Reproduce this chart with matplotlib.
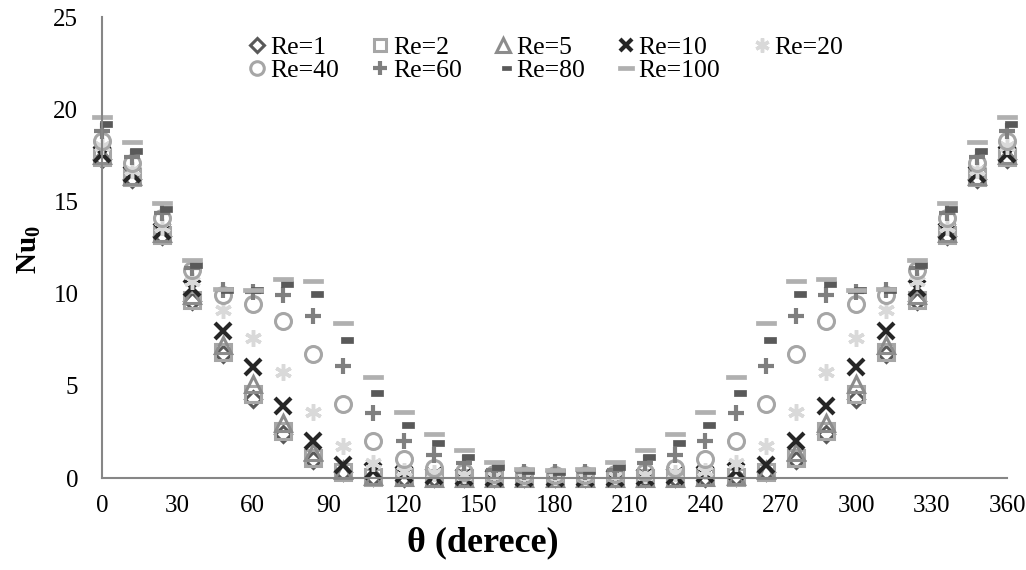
import numpy as np
import matplotlib
matplotlib.use("Agg")
import matplotlib.pyplot as plt
from matplotlib.path import Path

plt.rcParams['font.family'] = ['Liberation Serif', 'DejaVu Serif']
plt.rcParams['mathtext.fontset'] = 'custom'
plt.rcParams['mathtext.rm'] = 'Liberation Serif'
plt.rcParams['mathtext.bf'] = 'Liberation Serif:bold'

# theta in degrees, one point every 12 degrees
theta = [0, 12, 24, 36, 48, 60, 72, 84, 96, 108, 120, 132, 144, 156, 168, 180,
         192, 204, 216, 228, 240, 252, 264, 276, 288, 300, 312, 324, 336, 348, 360]

re1 = [17.3, 16.2, 13.1, 9.6, 6.7, 4.3, 2.4, 1.0, 0.3, 0.05, 0.02, 0, 0, 0, 0, 0,
       0, 0, 0, 0, 0.02, 0.05, 0.3, 1.0, 2.4, 4.3, 6.7, 9.6, 13.1, 16.2, 17.3]
re2 = [17.4, 16.3, 13.2, 9.65, 6.85, 4.55, 2.55, 1.1, 0.35, 0.08, 0.03, 0.01, 0, 0, 0, 0,
       0, 0, 0, 0.01, 0.03, 0.08, 0.35, 1.1, 2.55, 4.55, 6.85, 9.65, 13.2, 16.3, 17.4]
re5 = [17.5, 16.4, 13.3, 9.9, 7.2, 5.1, 3.0, 1.4, 0.45, 0.1, 0.03, 0.01, 0, 0, 0, 0,
       0, 0, 0, 0.01, 0.03, 0.1, 0.45, 1.4, 3.0, 5.1, 7.2, 9.9, 13.3, 16.4, 17.5]
re10 = [17.6, 16.5, 13.4, 10.3, 8.0, 6.0, 3.9, 2.0, 0.7, 0.4, 0.2, 0.1, 0.05, 0.02, 0.01, 0.01,
        0.01, 0.02, 0.05, 0.1, 0.2, 0.4, 0.7, 2.0, 3.9, 6.0, 8.0, 10.3, 13.4, 16.5, 17.6]
re20 = [18.0, 16.7, 13.6, 10.7, 9.1, 7.6, 5.75, 3.6, 1.75, 0.8, 0.4, 0.25, 0.15, 0.1, 0.05, 0.05,
        0.05, 0.1, 0.15, 0.25, 0.4, 0.8, 1.75, 3.6, 5.75, 7.6, 9.1, 10.7, 13.6, 16.7, 18.0]
re40 = [18.3, 17.1, 14.1, 11.3, 9.9, 9.45, 8.5, 6.7, 4.0, 2.0, 1.05, 0.55, 0.35, 0.2, 0.15, 0.15,
        0.15, 0.2, 0.35, 0.55, 1.05, 2.0, 4.0, 6.7, 8.5, 9.45, 9.9, 11.3, 14.1, 17.1, 18.3]
re60 = [18.8, 17.4, 14.4, 11.4, 10.2, 10.1, 9.9, 8.8, 6.1, 3.5, 2.0, 1.25, 0.8, 0.45, 0.35, 0.3,
        0.35, 0.45, 0.8, 1.25, 2.0, 3.5, 6.1, 8.8, 9.9, 10.1, 10.2, 11.4, 14.4, 17.4, 18.8]
re80 = [19.2, 17.75, 14.6, 11.55, 10.2, 10.2, 10.5, 10.0, 7.5, 4.6, 2.9, 1.9, 1.15, 0.6, 0.4, 0.35,
        0.4, 0.6, 1.15, 1.9, 2.9, 4.6, 7.5, 10.0, 10.5, 10.2, 10.2, 11.55, 14.6, 17.75, 19.2]
re100 = [19.6, 18.2, 14.9, 11.8, 10.25, 10.2, 10.8, 10.7, 8.4, 5.5, 3.6, 2.4, 1.5, 0.85, 0.5, 0.45,
         0.5, 0.85, 1.5, 2.4, 3.6, 5.5, 8.4, 10.7, 10.8, 10.2, 10.25, 11.8, 14.9, 18.2, 19.6]

labels = ["Re=1", "Re=2", "Re=5", "Re=10", "Re=20", "Re=40", "Re=60", "Re=80", "Re=100"]
x_ticks = [0, 30, 60, 90, 120, 150, 180, 210, 240, 270, 300, 330, 360]
y_ticks = [0, 5, 10, 15, 20, 25]

long_dash = Path([(-1, -0.25), (1, -0.25), (1, 0.25), (-1, 0.25), (-1, -0.25)],
                 [1, 2, 2, 2, 79])
short_dash = Path([(-0.16, -0.27), (1, -0.27), (1, 0.27), (-0.16, 0.27), (-0.16, -0.27)],
                  [1, 2, 2, 2, 79])

styles = [
    dict(marker='D', ms=8.5, mec='#595959', mfc='none', mew=2.2),
    dict(marker='s', ms=11, mec='#a6a6a6', mfc='none', mew=2.2),
    dict(marker='^', ms=12, mec='#8c8c8c', mfc='none', mew=2.2),
    dict(marker='x', ms=11, mec='#262626', mfc='none', mew=3),
    dict(marker=(6, 2, 0), ms=12, mec='#d9d9d9', mfc='none', mew=2.5),
    dict(marker='o', ms=11.5, mec='#a6a6a6', mfc='none', mew=2.2),
    dict(marker='+', ms=12, mec='#7f7f7f', mfc='none', mew=3),
    dict(marker=short_dash, ms=13.7, mec='#595959', mfc='#595959', mew=0.5),
    dict(marker=long_dash, ms=13.7, mec='#b0b0b0', mfc='#b0b0b0', mew=0.5),
]

series = [re1, re2, re5, re10, re20, re40, re60, re80, re100]

fig = plt.figure(figsize=(10.26, 5.70), dpi=100)
ax = fig.add_axes([0.0994, 0.1614, 0.8821, 0.8086])

handles = []
for vals, lab, st in zip(series, labels, styles):
    h, = ax.plot(theta, vals, linestyle='none', label=lab, clip_on=False, **st)
    handles.append(h)

ax.set_xlim(0, 360)
ax.set_ylim(0, 25)
ax.set_xticks(x_ticks)
ax.set_yticks(y_ticks)
ax.tick_params(length=0, labelsize=18, pad=12)
ax.tick_params(axis='y', pad=17)
for s in ['top', 'right']:
    ax.spines[s].set_visible(False)
for s in ['left', 'bottom']:
    ax.spines[s].set_color('#868686')
    ax.spines[s].set_linewidth(1.5)

ax.set_xlabel('θ (derece)', fontsize=26, fontweight='bold', va='center')
ax.xaxis.set_label_coords(0.421, -0.141)
ax.set_ylabel(r'$\mathbf{Nu}_\mathbf{0}$', fontsize=21, va='center')
ax.yaxis.set_label_coords(-0.08, 0.495)

# legend filled column by column, so reorder for row-wise reading
order = [0, 5, 1, 6, 2, 7, 3, 8, 4]
fig.legend([handles[i] for i in order], [labels[i] for i in order],
           loc='upper center', bbox_to_anchor=(0.532, 0.955), bbox_transform=fig.transFigure,
           ncol=5, frameon=False, fontsize=18.5, handlelength=0.7, handletextpad=0.15,
           columnspacing=1.25, labelspacing=0.0, markerscale=0.85, numpoints=1,
           borderaxespad=0)

fig.savefig('out.png', dpi=100)
